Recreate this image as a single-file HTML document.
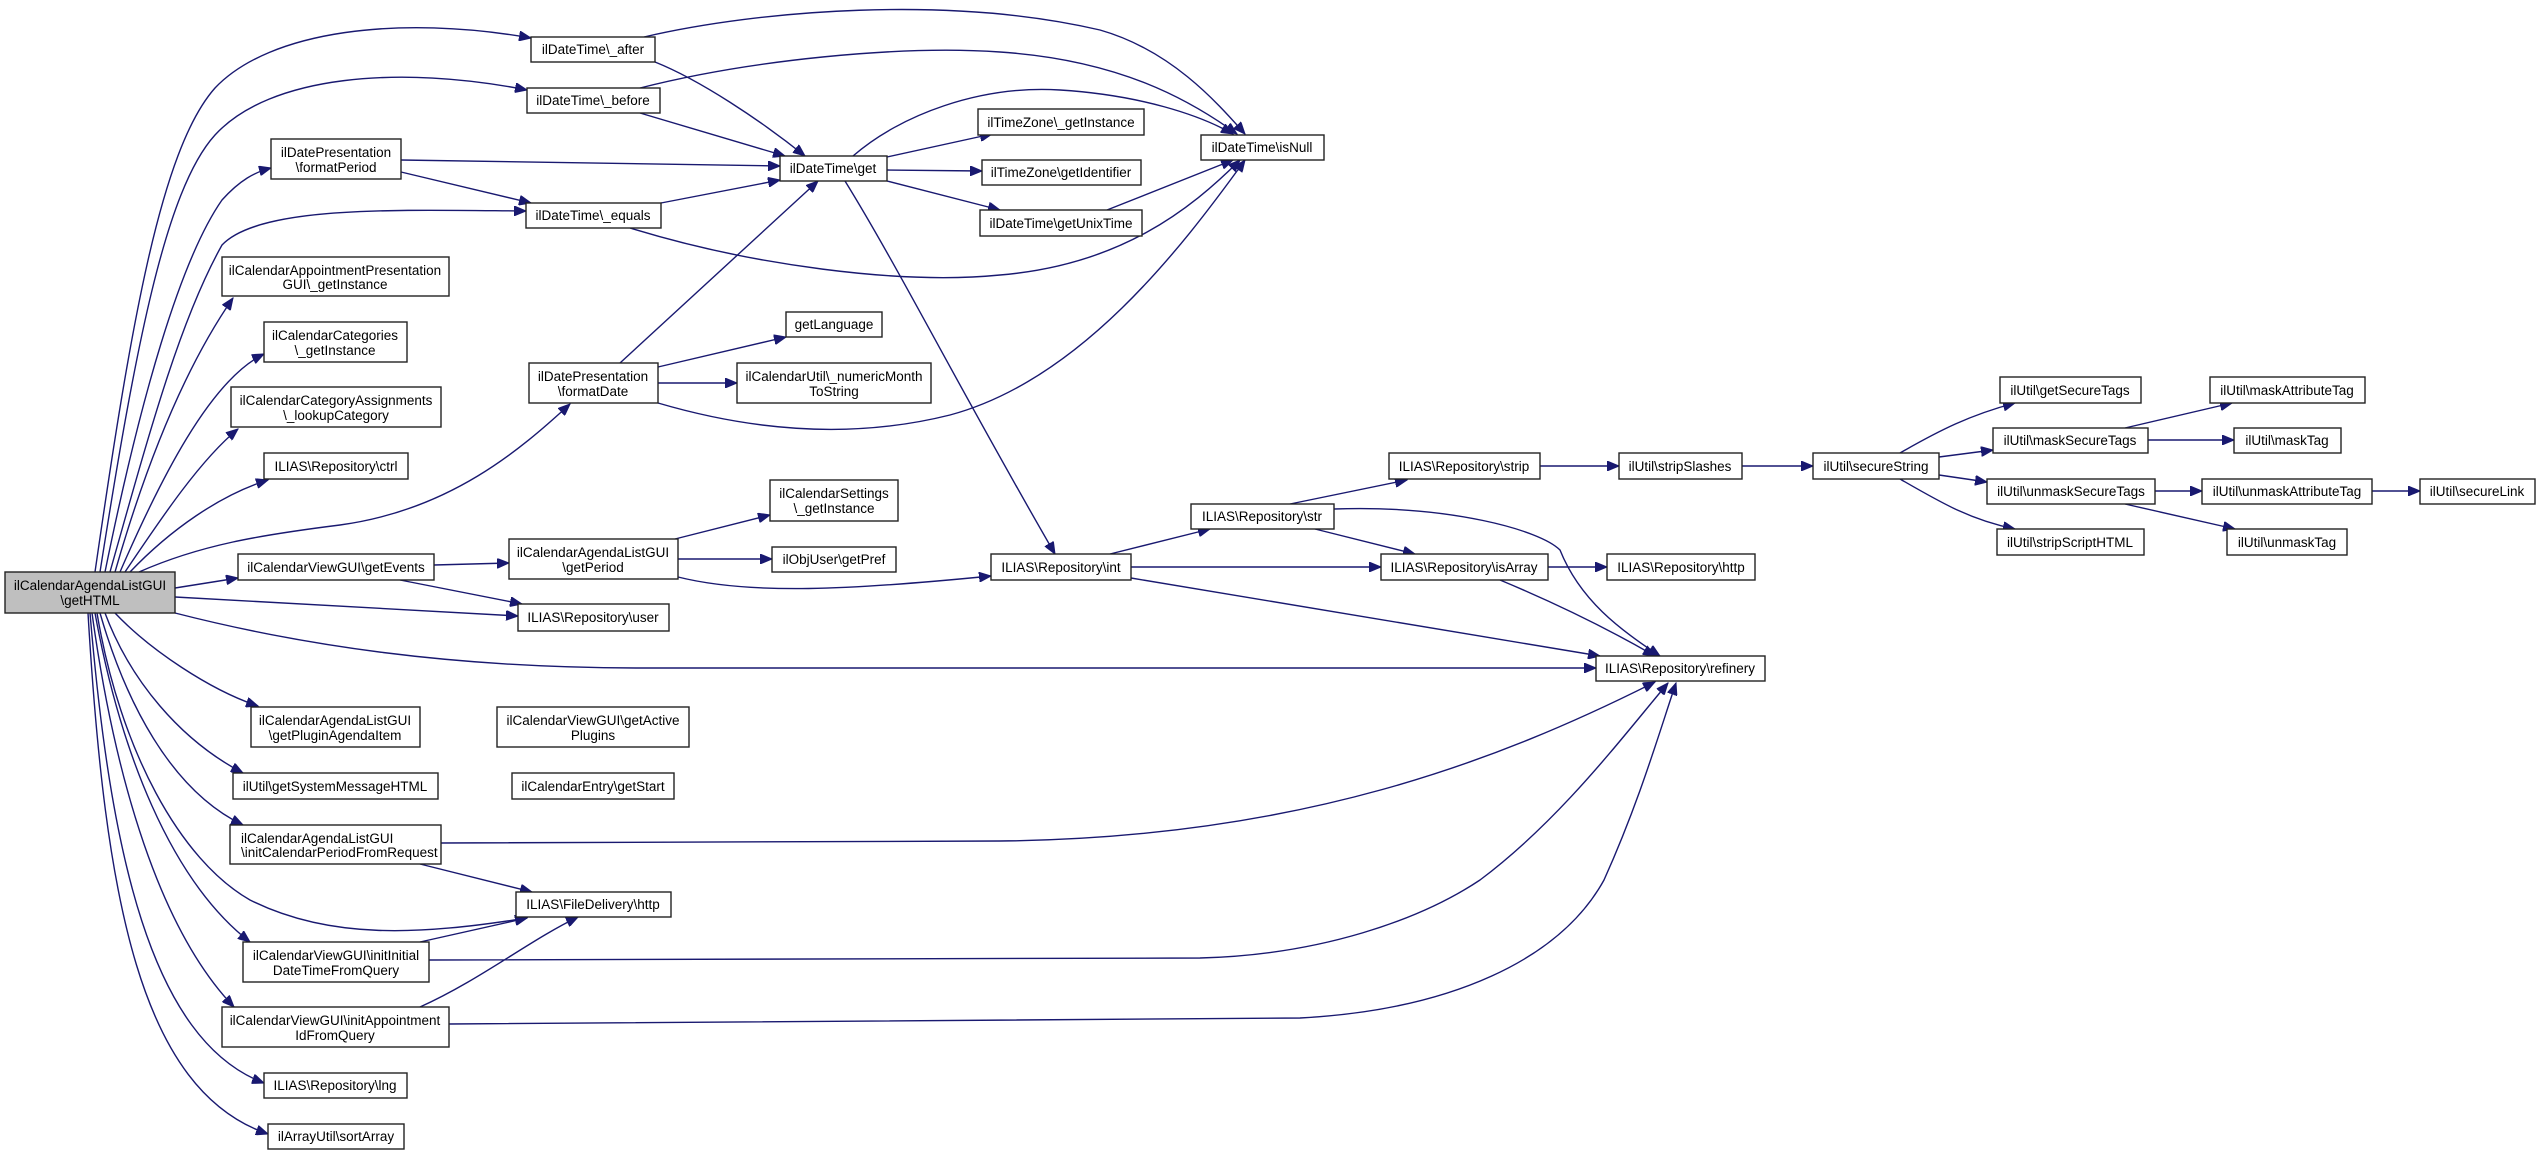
<!DOCTYPE html>
<html><head><meta charset="utf-8"><style>
html,body{margin:0;padding:0;background:#fff;}
svg{display:block;}
text{font-family:"Liberation Sans",sans-serif;font-size:13.5px;fill:#000;}
.n{fill:#fff;stroke:#222;stroke-width:1.4;}
.e{fill:none;stroke:#191970;stroke-width:1.4;marker-end:url(#a);}
</style></head><body>
<svg width="2540" height="1155" viewBox="0 0 2540 1155" xmlns="http://www.w3.org/2000/svg">
<defs><marker id="a" markerWidth="13" markerHeight="10" refX="12" refY="5" orient="auto" markerUnits="userSpaceOnUse"><path d="M0,0 L12,5 L0,10 z" fill="#191970" stroke="#191970"/></marker></defs>
<g>
<path class="e" d="M95,572 C130,330 160,150 215,88 C270,30 400,15 531,38"/>
<path class="e" d="M100,572 C135,350 165,190 215,135 C270,75 400,65 527,90"/>
<path class="e" d="M105,572 C140,400 180,260 222,200 C240,180 255,172 271,168"/>
<path class="e" d="M110,572 C150,430 180,320 222,245 C260,205 400,210 526,211"/>
<path class="e" d="M115,572 C150,450 190,360 233,298"/>
<path class="e" d="M120,572 C160,480 210,380 264,354"/>
<path class="e" d="M125,572 C160,520 200,460 238,429"/>
<path class="e" d="M130,572 C170,530 220,495 268,480"/>
<path class="e" d="M139,572 C200,545 260,535 340,525 C450,510 520,450 570,404"/>
<path class="e" d="M175,588 L238,578"/>
<path class="e" d="M175,597 L518,616"/>
<path class="e" d="M175,613 C300,645 450,668 640,668 L1596,668"/>
<path class="e" d="M115,613 C150,650 210,690 258,706"/>
<path class="e" d="M105,613 C130,680 180,740 243,773"/>
<path class="e" d="M100,613 C125,700 170,790 243,825"/>
<path class="e" d="M97,613 C120,750 180,860 250,900 C330,940 420,935 527,918"/>
<path class="e" d="M95,613 C120,750 170,880 250,942"/>
<path class="e" d="M92,613 C115,780 160,930 234,1007"/>
<path class="e" d="M90,613 C110,850 150,1040 264,1083"/>
<path class="e" d="M88,613 C105,900 140,1090 268,1134"/>
<path class="e" d="M644,37 C760,10 950,-5 1100,30 C1170,50 1215,100 1245,134"/>
<path class="e" d="M655,62 C700,80 760,120 805,156"/>
<path class="e" d="M640,88 C750,60 900,45 1000,52 C1120,60 1190,100 1237,134"/>
<path class="e" d="M640,113 L785,156"/>
<path class="e" d="M401,160 L780,166"/>
<path class="e" d="M401,172 L531,203"/>
<path class="e" d="M661,203 L780,180"/>
<path class="e" d="M630,228 C750,265 900,285 1000,275 C1120,265 1190,210 1240,160"/>
<path class="e" d="M620,363 L818,181"/>
<path class="e" d="M658,367 L786,337"/>
<path class="e" d="M658,383 L737,383"/>
<path class="e" d="M658,403 C750,430 850,440 950,415 C1080,380 1180,250 1245,160"/>
<path class="e" d="M853,156 C900,115 980,85 1060,90 C1140,95 1200,115 1233,134"/>
<path class="e" d="M887,157 L992,134"/>
<path class="e" d="M887,170 L982,171"/>
<path class="e" d="M887,181 L1000,210"/>
<path class="e" d="M1107,210 L1233,160"/>
<path class="e" d="M845,181 C900,270 960,390 1055,554"/>
<path class="e" d="M434,565 L509,563"/>
<path class="e" d="M400,580 L522,604"/>
<path class="e" d="M675,539 L770,515"/>
<path class="e" d="M678,559 L772,559"/>
<path class="e" d="M678,577 C750,595 850,590 991,576"/>
<path class="e" d="M1110,554 L1210,529"/>
<path class="e" d="M1131,567 L1381,567"/>
<path class="e" d="M1131,578 L1600,656"/>
<path class="e" d="M1290,504 L1407,480"/>
<path class="e" d="M1315,529 L1415,554"/>
<path class="e" d="M1334,509 C1450,505 1540,530 1560,550 C1580,600 1620,630 1660,656"/>
<path class="e" d="M1548,567 L1607,567"/>
<path class="e" d="M1500,580 C1560,605 1610,630 1655,656"/>
<path class="e" d="M1540,466 L1619,466"/>
<path class="e" d="M1742,466 L1813,466"/>
<path class="e" d="M1900,453 C1940,430 1970,415 2015,403"/>
<path class="e" d="M1939,457 L1993,450"/>
<path class="e" d="M1939,475 L1987,482"/>
<path class="e" d="M1900,479 C1940,502 1970,520 2015,529"/>
<path class="e" d="M2125,428 L2232,403"/>
<path class="e" d="M2148,440 L2234,440"/>
<path class="e" d="M2155,491 L2202,491"/>
<path class="e" d="M2372,491 L2420,491"/>
<path class="e" d="M2125,504 L2235,529"/>
<path class="e" d="M441,843 L1000,841 C1300,838 1500,760 1655,682"/>
<path class="e" d="M420,864 L532,892"/>
<path class="e" d="M420,942 L527,918"/>
<path class="e" d="M429,960 L1200,958 C1320,955 1420,920 1480,880 C1560,820 1620,740 1668,683"/>
<path class="e" d="M449,1024 L1300,1018 C1450,1010 1560,960 1604,880 C1640,800 1660,730 1676,683"/>
<path class="e" d="M420,1007 C480,980 530,940 578,917"/>
</g>
<g>
<rect x="5" y="572" width="170" height="41" style="fill:#bfbfbf;stroke:#222;stroke-width:1.4"/>
<text x="90" y="590" text-anchor="middle">ilCalendarAgendaListGUI</text><text x="90" y="605" text-anchor="middle">\getHTML</text>

<rect class="n" x="531" y="37" width="124" height="25"/><text x="593" y="54" text-anchor="middle">ilDateTime\_after</text>
<rect class="n" x="527" y="88" width="133" height="25"/><text x="593" y="105" text-anchor="middle">ilDateTime\_before</text>
<rect class="n" x="271" y="139" width="130" height="40"/><text x="336" y="157" text-anchor="middle">ilDatePresentation</text><text x="336" y="172" text-anchor="middle">\formatPeriod</text>
<rect class="n" x="526" y="203" width="135" height="25"/><text x="593" y="220" text-anchor="middle">ilDateTime\_equals</text>
<rect class="n" x="222" y="257" width="227" height="39"/><text x="335" y="275" text-anchor="middle">ilCalendarAppointmentPresentation</text><text x="335" y="289" text-anchor="middle">GUI\_getInstance</text>
<rect class="n" x="264" y="322" width="143" height="40"/><text x="335" y="340" text-anchor="middle">ilCalendarCategories</text><text x="335" y="355" text-anchor="middle">\_getInstance</text>
<rect class="n" x="231" y="387" width="210" height="40"/><text x="336" y="405" text-anchor="middle">ilCalendarCategoryAssignments</text><text x="336" y="420" text-anchor="middle">\_lookupCategory</text>
<rect class="n" x="264" y="453" width="144" height="26"/><text x="336" y="471" text-anchor="middle">ILIAS\Repository\ctrl</text>
<rect class="n" x="529" y="363" width="129" height="40"/><text x="593" y="381" text-anchor="middle">ilDatePresentation</text><text x="593" y="396" text-anchor="middle">\formatDate</text>
<rect class="n" x="238" y="554" width="196" height="26"/><text x="336" y="572" text-anchor="middle">ilCalendarViewGUI\getEvents</text>
<rect class="n" x="509" y="539" width="169" height="40"/><text x="593" y="557" text-anchor="middle">ilCalendarAgendaListGUI</text><text x="593" y="572" text-anchor="middle">\getPeriod</text>
<rect class="n" x="518" y="604" width="151" height="27"/><text x="593" y="622" text-anchor="middle">ILIAS\Repository\user</text>
<rect class="n" x="251" y="707" width="169" height="40"/><text x="335" y="725" text-anchor="middle">ilCalendarAgendaListGUI</text><text x="335" y="740" text-anchor="middle">\getPluginAgendaItem</text>
<rect class="n" x="497" y="707" width="192" height="40"/><text x="593" y="725" text-anchor="middle">ilCalendarViewGUI\getActive</text><text x="593" y="740" text-anchor="middle">Plugins</text>
<rect class="n" x="233" y="773" width="205" height="26"/><text x="335" y="791" text-anchor="middle">ilUtil\getSystemMessageHTML</text>
<rect class="n" x="512" y="773" width="162" height="26"/><text x="593" y="791" text-anchor="middle">ilCalendarEntry\getStart</text>
<rect class="n" x="230" y="825" width="211" height="39"/><text x="241" y="843">ilCalendarAgendaListGUI</text><text x="241" y="857">\initCalendarPeriodFromRequest</text>
<rect class="n" x="516" y="892" width="155" height="25"/><text x="593" y="909" text-anchor="middle">ILIAS\FileDelivery\http</text>
<rect class="n" x="243" y="942" width="186" height="40"/><text x="336" y="960" text-anchor="middle">ilCalendarViewGUI\initInitial</text><text x="336" y="975" text-anchor="middle">DateTimeFromQuery</text>
<rect class="n" x="222" y="1007" width="227" height="40"/><text x="335" y="1025" text-anchor="middle">ilCalendarViewGUI\initAppointment</text><text x="335" y="1040" text-anchor="middle">IdFromQuery</text>
<rect class="n" x="264" y="1073" width="143" height="25"/><text x="335" y="1090" text-anchor="middle">ILIAS\Repository\lng</text>
<rect class="n" x="268" y="1124" width="136" height="25"/><text x="336" y="1141" text-anchor="middle">ilArrayUtil\sortArray</text>

<rect class="n" x="780" y="156" width="107" height="25"/><text x="833" y="173" text-anchor="middle">ilDateTime\get</text>
<rect class="n" x="978" y="109" width="166" height="26"/><text x="1061" y="127" text-anchor="middle">ilTimeZone\_getInstance</text>
<rect class="n" x="982" y="160" width="159" height="25"/><text x="1061" y="177" text-anchor="middle">ilTimeZone\getIdentifier</text>
<rect class="n" x="980" y="210" width="162" height="26"/><text x="1061" y="228" text-anchor="middle">ilDateTime\getUnixTime</text>
<rect class="n" x="1201" y="135" width="123" height="25"/><text x="1262" y="152" text-anchor="middle">ilDateTime\isNull</text>
<rect class="n" x="786" y="312" width="96" height="25"/><text x="834" y="329" text-anchor="middle">getLanguage</text>
<rect class="n" x="737" y="363" width="194" height="40"/><text x="834" y="381" text-anchor="middle">ilCalendarUtil\_numericMonth</text><text x="834" y="396" text-anchor="middle">ToString</text>
<rect class="n" x="770" y="480" width="128" height="41"/><text x="834" y="498" text-anchor="middle">ilCalendarSettings</text><text x="834" y="513" text-anchor="middle">\_getInstance</text>
<rect class="n" x="772" y="547" width="124" height="25"/><text x="834" y="564" text-anchor="middle">ilObjUser\getPref</text>
<rect class="n" x="991" y="554" width="140" height="26"/><text x="1061" y="572" text-anchor="middle">ILIAS\Repository\int</text>
<rect class="n" x="1191" y="504" width="143" height="25"/><text x="1262" y="521" text-anchor="middle">ILIAS\Repository\str</text>
<rect class="n" x="1389" y="453" width="151" height="26"/><text x="1464" y="471" text-anchor="middle">ILIAS\Repository\strip</text>
<rect class="n" x="1619" y="453" width="123" height="26"/><text x="1680" y="471" text-anchor="middle">ilUtil\stripSlashes</text>
<rect class="n" x="1813" y="453" width="126" height="26"/><text x="1876" y="471" text-anchor="middle">ilUtil\secureString</text>
<rect class="n" x="1381" y="554" width="167" height="26"/><text x="1464" y="572" text-anchor="middle">ILIAS\Repository\isArray</text>
<rect class="n" x="1607" y="554" width="148" height="26"/><text x="1681" y="572" text-anchor="middle">ILIAS\Repository\http</text>
<rect class="n" x="1596" y="656" width="169" height="25"/><text x="1680" y="673" text-anchor="middle">ILIAS\Repository\refinery</text>
<rect class="n" x="2000" y="377" width="141" height="26"/><text x="2070" y="395" text-anchor="middle">ilUtil\getSecureTags</text>
<rect class="n" x="1993" y="428" width="155" height="25"/><text x="2070" y="445" text-anchor="middle">ilUtil\maskSecureTags</text>
<rect class="n" x="1987" y="479" width="168" height="25"/><text x="2071" y="496" text-anchor="middle">ilUtil\unmaskSecureTags</text>
<rect class="n" x="1997" y="529" width="147" height="26"/><text x="2070" y="547" text-anchor="middle">ilUtil\stripScriptHTML</text>
<rect class="n" x="2210" y="377" width="155" height="26"/><text x="2287" y="395" text-anchor="middle">ilUtil\maskAttributeTag</text>
<rect class="n" x="2234" y="428" width="107" height="25"/><text x="2287" y="445" text-anchor="middle">ilUtil\maskTag</text>
<rect class="n" x="2202" y="479" width="170" height="25"/><text x="2287" y="496" text-anchor="middle">ilUtil\unmaskAttributeTag</text>
<rect class="n" x="2227" y="529" width="120" height="26"/><text x="2287" y="547" text-anchor="middle">ilUtil\unmaskTag</text>
<rect class="n" x="2420" y="479" width="115" height="25"/><text x="2477" y="496" text-anchor="middle">ilUtil\secureLink</text>
</g>
</svg>
</body></html>
